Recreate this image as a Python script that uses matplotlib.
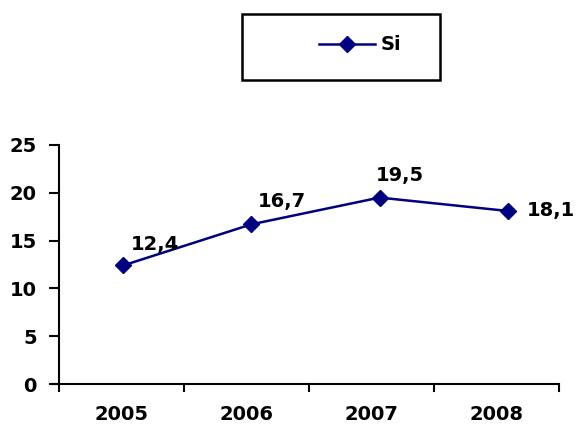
import matplotlib
matplotlib.use("Agg")
import matplotlib.pyplot as plt
from matplotlib.patches import Rectangle
from matplotlib.lines import Line2D

plt.rcParams['font.family'] = ['DejaVu Sans']
plt.rcParams['font.weight'] = 'bold'

years = ['2005', '2006', '2007', '2008']
si = [12.4, 16.7, 19.5, 18.1]
labels = ['12,4', '16,7', '19,5', '18,1']
navy = '#000080'
fs = 14

fig = plt.figure(figsize=(5.76, 4.34), dpi=100)
ax = fig.add_axes([59/576, 1 - 384/434, (559 - 59)/576, (384 - 145)/434])

x = list(range(len(years)))
ax.plot(x, si, color=navy, lw=1.8, marker='D', ms=8, mfc=navy, mec=navy, clip_on=False)

# data labels (offsets in pixels, converted to points)
offsets = [(8, 21), (7, 23), (-4, 22), (19, 0)]
for xi, yi, lab, off in zip(x, si, labels, offsets):
    ax.annotate(lab, (xi, yi), xytext=(off[0] * 0.72, off[1] * 0.72),
                textcoords='offset points', ha='left', va='center',
                fontsize=fs, fontweight='bold')

ax.set_xlim(-0.5, 3.4)
ax.set_ylim(0, 25)
ax.set_yticks([0, 5, 10, 15, 20, 25])
ax.set_xticks([])
ax.tick_params(axis='y', direction='out', length=7, width=1.5, labelsize=fs, pad=9)

ax.spines['top'].set_visible(False)
ax.spines['right'].set_visible(False)
ax.spines['left'].set_linewidth(1.5)
ax.spines['bottom'].set_linewidth(1.5)

# category ticks hanging below the axis and year labels
xt = ax.get_xaxis_transform()
n = len(years)
for i in range(n + 1):
    ax.plot([i / n, i / n], [0, -0.03], color='black', lw=1.5,
            transform=ax.transAxes, clip_on=False)
ax.plot([-0.015, 0], [0, 0], color='black', lw=1.5, transform=ax.transAxes, clip_on=False)
for i, yr in enumerate(years):
    ax.text((i + 0.5) / n, -31 / 239, yr, transform=ax.transAxes,
            ha='center', va='center', fontsize=fs, fontweight='bold')

# legend box
fig.patches.append(Rectangle((242/576, 1 - 80/434), (440 - 242)/576, (80 - 14)/434,
                             transform=fig.transFigure, fill=False, ec='black', lw=1.8))
fig.lines.append(Line2D([319/576, 375/576], [1 - 44/434, 1 - 44/434],
                        transform=fig.transFigure, color=navy, lw=1.8))
fig.lines.append(Line2D([347/576], [1 - 44/434], transform=fig.transFigure,
                        color=navy, marker='D', ms=8, mfc=navy, mec=navy))
fig.text(381/576, 1 - 44/434, 'Si', fontsize=fs, fontweight='bold', va='center', ha='left')

fig.savefig('out.png', dpi=100)
